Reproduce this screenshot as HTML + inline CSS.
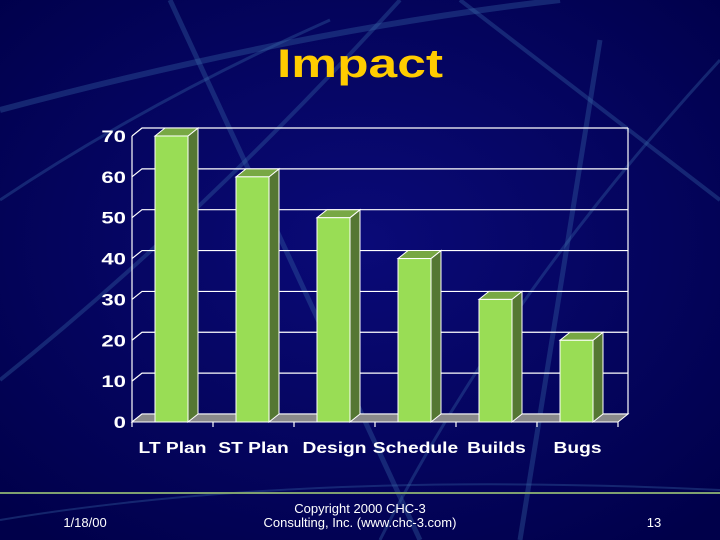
<!DOCTYPE html>
<html><head><meta charset="utf-8"><style>
html,body{margin:0;padding:0;width:720px;height:540px;overflow:hidden;background:#000060}
svg{display:block;font-family:"Liberation Sans",Arial,sans-serif}
</style></head><body>
<svg id="s" width="720" height="540" viewBox="0 0 720 540">
<defs>
<radialGradient id="bg" cx="50%" cy="45%" r="70%">
<stop offset="0" stop-color="#0a0a78"/><stop offset="1" stop-color="#00004a"/></radialGradient>
</defs>
<rect width="720" height="540" fill="url(#bg)"/>
<g stroke="#3a6aa8" stroke-opacity="0.35" fill="none">
<path d="M0 110 Q300 30 560 0" stroke-width="6"/>
<path d="M170 0 L420 540" stroke-width="5"/>
<path d="M0 380 Q200 220 400 0" stroke-width="4"/>
<path d="M460 0 L720 200" stroke-width="4"/>
<path d="M600 40 L520 540" stroke-width="5"/>
<path d="M720 60 Q500 300 380 540" stroke-width="3"/>
<path d="M0 200 Q150 100 330 20" stroke-width="3"/>
<path d="M0 520 Q300 470 720 490" stroke-width="2"/>
</g>
<line x1="0" y1="493" x2="720" y2="493" stroke="#7fa070" stroke-width="2"/>
<text id="title" x="360" y="77" text-anchor="middle" font-size="40" font-weight="bold" fill="#ffcc00" textLength="166" lengthAdjust="spacingAndGlyphs">Impact</text>
<g id="chart"></g>
<text x="85" y="527" text-anchor="middle" font-size="13" fill="#fff">1/18/00</text>
<text x="360" y="513" text-anchor="middle" font-size="13" fill="#fff">Copyright 2000 CHC-3</text>
<text x="360" y="527" text-anchor="middle" font-size="13" fill="#fff">Consulting, Inc. (www.chc-3.com)</text>
<text x="654" y="527" text-anchor="middle" font-size="13" fill="#fff">13</text>
</svg>
<script>
const categories=["LT Plan","ST Plan","Design","Schedule","Builds","Bugs"];
const values=[70,60,50,40,30,20];
const ticks=[0,10,20,30,40,50,60,70];
const NS="http://www.w3.org/2000/svg";
const g=document.getElementById('chart');
const X0=132,X1=618,Y0=422,DX=10,DY=-8,K=4.086;
const cw=(X1-X0)/categories.length;
function y(v){return Y0-v*K;}
function x(i){return X0+cw*i;}
function mk(t,a){const e=document.createElementNS(NS,t);for(const k in a)e.setAttribute(k,a[k]);g.appendChild(e);return e;}
function widen(el,f){const w=el.getComputedTextLength();el.setAttribute('textLength',w*f);el.setAttribute('lengthAdjust','spacingAndGlyphs');}
ticks.forEach(t=>{
 const l=mk('polyline',{points:`${X0},${y(t)} ${X0+DX},${y(t)+DY} ${X1+DX},${y(t)+DY}`,fill:'none',stroke:'#fff','stroke-width':1.2});
 
 
 const tx=mk('text',{x:X0-6,y:y(t)+6,'text-anchor':'end','font-size':17,'font-weight':'bold',fill:'#fff'});
 tx.textContent=t;
 
 
 widen(tx,1.3);
});
const wall=mk('polyline',{points:`${X0},${Y0} ${X0},${y(ticks[ticks.length-1])}`,stroke:'#fff',fill:'none','stroke-width':1.2});


const rw=mk('line',{x1:X1+DX,y1:Y0+DY,x2:X1+DX,y2:y(70)+DY,stroke:'#fff','stroke-width':1.2});


const fl=mk('polygon',{points:`${X0},${Y0} ${X1},${Y0} ${X1+DX},${Y0+DY} ${X0+DX},${Y0+DY}`,fill:'#8a8a8a',stroke:'#fff','stroke-width':1});


for(let i=0;i<=categories.length;i++){
 const t=mk('line',{x1:x(i),y1:Y0,x2:x(i),y2:Y0+5,stroke:'#fff','stroke-width':1.2});
 
 
}
categories.forEach((c,i)=>{
 const bx=x(i)+23,bw=33,top=y(values[i]);
 const side=mk('polygon',{points:`${bx+bw},${Y0} ${bx+bw+DX},${Y0+DY} ${bx+bw+DX},${top+DY} ${bx+bw},${top}`,fill:'#557733',stroke:'#fff','stroke-width':1});
 
 
 const tp=mk('polygon',{points:`${bx},${top} ${bx+DX},${top+DY} ${bx+bw+DX},${top+DY} ${bx+bw},${top}`,fill:'#78a844',stroke:'#fff','stroke-width':1});
 
 
 const fr=mk('rect',{x:bx,y:top,width:bw,height:Y0-top,fill:'#99dd55',stroke:'#fff','stroke-width':1});
 
 
 const lb=mk('text',{x:x(i)+cw/2,y:453,'text-anchor':'middle','font-size':16,'font-weight':'bold',fill:'#fff'});
 lb.textContent=c;
 
 
 widen(lb,1.2);
});
</script>
</body></html>
